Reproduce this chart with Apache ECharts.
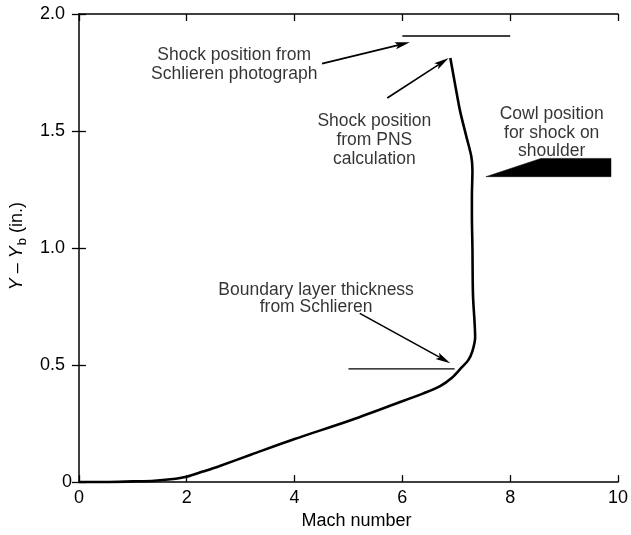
<!DOCTYPE html>
<html>
<head>
<meta charset="utf-8">
<script src="https://cdn.jsdelivr.net/npm/echarts/dist/echarts.min.js"></script>
<style>
  html, body { margin: 0; padding: 0; background: #fff; }
  #chart { width: 631px; height: 535px; }
</style>
</head>
<body>
<div id="chart"></div>
<script>
// Mach number profile across the layer (x = Mach, y = Y - Yb in inches)
const machValues = [0, 0.5, 1.0, 1.4, 1.7, 2.0, 2.3, 2.6, 3.2, 4.0, 5.0, 5.9, 6.4, 6.7, 6.92, 7.10, 7.22, 7.30, 7.35, 7.34, 7.31, 7.30, 7.29, 7.29, 7.30, 7.28, 7.19, 7.07, 6.98, 6.89];
const heightValues = [0, 0, 0.003, 0.006, 0.012, 0.023, 0.045, 0.068, 0.118, 0.184, 0.261, 0.337, 0.380, 0.410, 0.446, 0.49, 0.52, 0.56, 0.62, 0.68, 0.80, 1.0, 1.14, 1.22, 1.33, 1.39, 1.474, 1.586, 1.697, 1.812];

// Shock position measured on the Schlieren photograph
const schlierenShockX = [6.0, 8.0];
const schlierenShockY = [1.906, 1.906];

// Boundary layer edge measured on the Schlieren photograph
const boundaryLayerX = [5.0, 6.97];
const boundaryLayerY = [0.484, 0.484];

// Cowl outline (wedge) for shock on shoulder
const cowlX = [7.55, 8.57, 9.87, 9.87];
const cowlY = [1.305, 1.383, 1.383, 1.305];

// Axis ticks
const xTicks = [0, 2, 4, 6, 8, 10];
const yTicks = [0, 0.5, 1.0, 1.5, 2.0];

// Annotation texts, their anchors, and the arrows that point from them
const noteTexts = [
  'Shock position from\nSchlieren photograph',
  'Shock position\nfrom PNS\ncalculation',
  'Cowl position\nfor shock on\nshoulder',
  'Boundary layer thickness\nfrom Schlieren'
];
const noteX = [2.88, 5.48, 8.77, 4.40];
const noteY = [1.785, 1.461, 1.492, 0.783];
const noteLineHeight = [19, 19, 18.5, 17.5];
const arrowFromX = [4.51, 5.72, 5.21];
const arrowFromY = [1.788, 1.641, 0.721];
const arrowToX = [6.14, 6.86, 6.89];
const arrowToY = [1.879, 1.812, 0.508];

const FONT = '"Liberation Sans", Arial, Helvetica, sans-serif';
const INK = '#000';
const FS = 18;

const chart = echarts.init(document.getElementById('chart'), null, { renderer: 'canvas' });

const axisCommon = {
  type: 'value',
  axisLine: { show: true, onZero: false, lineStyle: { color: INK, width: 1.5 } },
  axisTick: { show: true, inside: true, length: 7, lineStyle: { color: INK, width: 1.3 } },
  splitLine: { show: false }
};

const profile = machValues.map((m, i) => [m, heightValues[i]]);
const arrows = arrowFromX.map((x, i) => [x, arrowFromY[i], arrowToX[i], arrowToY[i]]);
const notes = noteTexts.map((t, i) => ({
  value: [noteX[i], noteY[i]],
  label: { formatter: t, lineHeight: noteLineHeight[i] }
}));

const option = {
  animation: false,
  backgroundColor: '#fff',
  grid: { left: 72.8, right: 4.6, top: 14, bottom: 42.7, containLabel: false },
  xAxis: [
    Object.assign({}, axisCommon, {
      position: 'bottom', min: xTicks[0], max: xTicks[xTicks.length - 1], interval: 2,
      axisLabel: { color: INK, fontFamily: FONT, fontSize: FS, margin: 7 },
      name: 'Mach number', nameLocation: 'middle', nameGap: 29,
      nameTextStyle: { color: INK, fontFamily: FONT, fontSize: FS, padding: [0, 0, 0, 16] }
    }),
    Object.assign({}, axisCommon, {
      position: 'top', min: xTicks[0], max: xTicks[xTicks.length - 1], interval: 2,
      axisLabel: { show: false }
    })
  ],
  yAxis: [
    Object.assign({}, axisCommon, {
      position: 'left', min: yTicks[0], max: yTicks[yTicks.length - 1], interval: 0.5,
      axisLabel: {
        color: INK, fontFamily: FONT, fontSize: FS, margin: 14,
        formatter: v => (v === 0 ? '{z|0}' : v.toFixed(1)),
        rich: { z: { fontFamily: FONT, fontSize: FS, color: INK, padding: [0, -7, 0, 0] } }
      },
      name: '{i|Y} {n|–} {i|Y}{s|b}{n| (in.)}',
      nameLocation: 'middle', nameGap: 42,
      nameTextStyle: {
        color: INK, fontFamily: FONT, fontSize: FS, padding: [0, 0, 0, 4],
        rich: {
          i: { fontFamily: FONT, fontSize: FS, fontStyle: 'italic', color: INK, verticalAlign: 'top', lineHeight: 20 },
          n: { fontFamily: FONT, fontSize: FS, color: INK, verticalAlign: 'top', lineHeight: 20 },
          s: { fontFamily: FONT, fontSize: 13, color: INK, verticalAlign: 'top', lineHeight: 20, padding: [8, 0, 0, 1] }
        }
      }
    }),
    Object.assign({}, axisCommon, {
      // the right-hand frame edge falls just past the page edge; only its ticks show
      position: 'right', offset: 5, min: yTicks[0], max: yTicks[yTicks.length - 1], interval: 0.5,
      axisLine: { show: false },
      axisLabel: { show: false }
    })
  ],
  series: [
    {
      name: 'Mach profile',
      type: 'line',
      xAxisIndex: 0, yAxisIndex: 0,
      data: profile,
      showSymbol: false, symbol: 'none',
      smooth: 0.3,
      lineStyle: { color: INK, width: 2.6 },
      z: 5
    },
    {
      name: 'Schlieren shock',
      type: 'line',
      xAxisIndex: 0, yAxisIndex: 0,
      data: schlierenShockX.map((x, i) => [x, schlierenShockY[i]]),
      symbol: 'none',
      lineStyle: { color: INK, width: 1.3 }
    },
    {
      name: 'Schlieren boundary layer',
      type: 'line',
      xAxisIndex: 0, yAxisIndex: 0,
      data: boundaryLayerX.map((x, i) => [x, boundaryLayerY[i]]),
      symbol: 'none',
      lineStyle: { color: INK, width: 1.3 }
    },
    {
      name: 'Cowl',
      type: 'custom',
      xAxisIndex: 0, yAxisIndex: 0,
      data: [[cowlX[0], cowlY[0]]],
      renderItem: function (params, api) {
        const pts = cowlX.map((x, i) => api.coord([x, cowlY[i]]));
        return { type: 'polygon', shape: { points: pts }, style: { fill: INK, stroke: INK, lineWidth: 0.5 } };
      },
      silent: true
    },
    {
      name: 'Arrows',
      type: 'custom',
      xAxisIndex: 0, yAxisIndex: 0,
      dimensions: ['x1', 'y1', 'x2', 'y2'],
      encode: { x: [0, 2], y: [1, 3] },
      data: arrows,
      renderItem: function (params, api) {
        const a = api.coord([api.value(0), api.value(1)]);
        const b = api.coord([api.value(2), api.value(3)]);
        const dx = b[0] - a[0], dy = b[1] - a[1];
        const len = Math.sqrt(dx * dx + dy * dy);
        const ux = dx / len, uy = dy / len;
        const nx = -uy, ny = ux;
        const headLen = 15, halfW = 3.6, notch = 12;
        const back = [b[0] - ux * headLen, b[1] - uy * headLen];
        const mid = [b[0] - ux * notch, b[1] - uy * notch];
        return {
          type: 'group',
          children: [
            { type: 'line', shape: { x1: a[0], y1: a[1], x2: mid[0], y2: mid[1] }, style: { stroke: INK, lineWidth: 1.6 } },
            { type: 'polygon', shape: { points: [b, [back[0] + nx * halfW, back[1] + ny * halfW], mid, [back[0] - nx * halfW, back[1] - ny * halfW]] }, style: { fill: INK } }
          ]
        };
      },
      silent: true
    },
    {
      name: 'Notes',
      type: 'scatter',
      xAxisIndex: 0, yAxisIndex: 0,
      symbolSize: 1,
      data: notes,
      label: {
        show: true, position: 'inside', align: 'center', verticalAlign: 'middle',
        color: INK, fontFamily: FONT, fontSize: 17.5, lineHeight: 19,
        textBorderWidth: 0
      },
      itemStyle: { color: 'rgba(0,0,0,0)' },
      silent: true,
      z: 6
    }
  ]
};

chart.setOption(option);
</script>
</body>
</html>
